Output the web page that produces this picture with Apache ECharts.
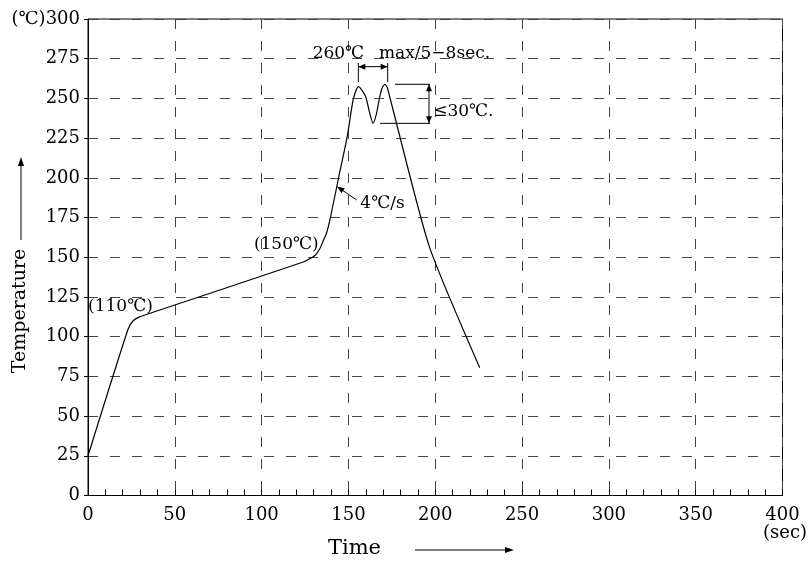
<!DOCTYPE html>
<html><head><meta charset="utf-8">
<script src="https://cdn.jsdelivr.net/npm/echarts@6/dist/echarts.min.js"></script>
<style>html,body{margin:0;padding:0;background:#fff}#c{width:808px;height:562px}</style>
</head><body><div id="c"></div>
<script>
// Reflow profile: time (sec) vs temperature (°C)
const timeSec = [0, 23, 26, 30, 34, 124, 128, 131, 133.5, 135.5, 137.4, 139.3, 144.5, 149.3, 152.5, 154.3, 155.8, 157.3, 160, 162.3, 164.2, 166.2, 168, 169.5, 171, 172.5, 173.8, 196.5, 225.6];
const tempC   = [25, 104.5, 110, 112.6, 114.1, 147, 149.2, 151.4, 155.4, 160.4, 165.3, 173.3, 201, 226, 248, 254.8, 257.4, 255.9, 250.9, 240.6, 234.3, 240.6, 250.9, 256.9, 258.9, 256.4, 250.9, 157, 80.5];
const xTicks = [0, 50, 100, 150, 200, 250, 300, 350, 400];
const yTicks = [0, 25, 50, 75, 100, 125, 150, 175, 200, 225, 250, 275, 300];

const FONT = '"DejaVu Serif", serif';
const chart = echarts.init(document.getElementById('c'));
const series = timeSec.map((t, i) => [t, tempC[i]]);

chart.setOption({
  animation: false,
  backgroundColor: '#fff',
  grid: { left: 88, right: 25.5, top: 19, bottom: 66.5, show: true, borderColor: '#000', borderWidth: 1 },
  xAxis: {
    type: 'value', min: xTicks[0], max: xTicks[xTicks.length - 1], interval: 50,
    axisLine: { lineStyle: { color: '#000', width: 1 } },
    axisTick: { show: true, inside: true, length: 6, lineStyle: { color: '#000' } },
    minorTick: { show: true, splitNumber: 5, length: 6, lineStyle: { color: '#000' } },
    axisLabel: { color: '#000', fontFamily: FONT, fontSize: 18, margin: 11 },
    splitLine: { show: true, lineStyle: { color: '#444', type: [10, 12], width: 1 } }
  },
  yAxis: {
    type: 'value', min: yTicks[0], max: yTicks[yTicks.length - 1], interval: 25,
    axisLine: { show: true, lineStyle: { color: '#000', width: 1 } },
    axisTick: { show: true, length: 4, lineStyle: { color: '#000' } },
    axisLabel: { color: '#000', fontFamily: FONT, fontSize: 18, margin: 8,
      formatter: v => v === 300 ? '(℃)300' : String(v) },
    splitLine: { show: true, lineStyle: { color: '#444', type: [10, 12], width: 1 } }
  },
  series: [{
    type: 'line', data: series, showSymbol: false, smooth: 0.2,
    lineStyle: { color: '#000', width: 1.2 }
  }]
});

function P(t, T) { return chart.convertToPixel({ gridIndex: 0 }, [t, T]); }
function line(a, b, w) {
  return { type: 'line', shape: { x1: a[0], y1: a[1], x2: b[0], y2: b[1] }, style: { stroke: '#000', lineWidth: w || 1 }, z: 100 };
}
function head(a, b, len, wid) {
  const dx = b[0] - a[0], dy = b[1] - a[1], L = Math.hypot(dx, dy);
  const ux = dx / L, uy = dy / L, px = -uy, py = ux;
  const bx = b[0] - ux * len, by = b[1] - uy * len;
  return { type: 'polygon', shape: { points: [[b[0], b[1]], [bx + px * wid, by + py * wid], [bx - px * wid, by - py * wid]] }, style: { fill: '#000' }, z: 100 };
}
function text(x, y, s, size, align, extra) {
  return Object.assign({ type: 'text', x: x, y: y, style: { text: s, fill: '#000', font: size + 'px ' + FONT, textAlign: align || 'left', textVerticalAlign: 'middle' }, z: 100 }, extra || {});
}

const g = [];
// top bracket 5-8 sec
g.push(line(P(155.7, 272.3), P(155.7, 260.3)), line(P(172.6, 272.3), P(172.6, 260.3)));
const am = P(155.7, 270), bm = P(172.6, 270);
g.push(line(am, bm), head(bm, am, 7, 3), head(am, bm, 7, 3));
const tt = P(144.2, 278.4), tt2 = P(199.6, 278.4);
g.push(text(tt[0], tt[1], '260℃', 17, 'center'), text(tt2[0], tt2[1], 'max/5−8sec.', 17, 'center'));
// right bracket ≤30
g.push(line(P(176.8, 258.9), P(197, 258.9)), line(P(168.2, 234.3), P(197, 234.3)));
const v1 = P(196.4, 258.9), v2 = P(196.4, 234.3);
g.push(line(v1, v2), head(v2, v1, 7, 3), head(v1, v2, 7, 3));
const t30 = P(216.2, 241.6);
g.push(text(t30[0], t30[1], '≤30℃.', 17, 'center'));
// 4 C/s
const s1 = P(154.8, 186), s2 = P(143.6, 194.4);
g.push(line(s1, s2), head(s1, s2, 7, 3));
const t4 = P(169.6, 184);
g.push(text(t4[0], t4[1], '4℃/s', 17, 'center'));
// point labels
const p110 = P(18.7, 118.9), p150 = P(114.2, 157.7);
g.push(text(p110[0], p110[1], '(110℃)', 17, 'center'), text(p150[0], p150[1], '(150℃)', 17, 'center'));
// axis titles
g.push(text(354.5, 549, 'Time', 21, 'center'));
g.push({ type: 'line', shape: { x1: 415, y1: 550, x2: 505, y2: 550 }, style: { stroke: '#555', lineWidth: 1.5 }, z: 100 });
g.push(head([415, 550], [514, 550], 9, 3));
g.push(text(785, 533, '(sec)', 18, 'center'));
g.push(text(20, 311, 'Temperature', 19, 'center', { rotation: Math.PI / 2 }));
g.push({ type: 'line', shape: { x1: 21, y1: 240, x2: 21, y2: 166 }, style: { stroke: '#555', lineWidth: 1.5 }, z: 100 });
g.push(head([21, 240], [21, 157], 9, 3));

chart.setOption({ graphic: g });
</script>
</body></html>
